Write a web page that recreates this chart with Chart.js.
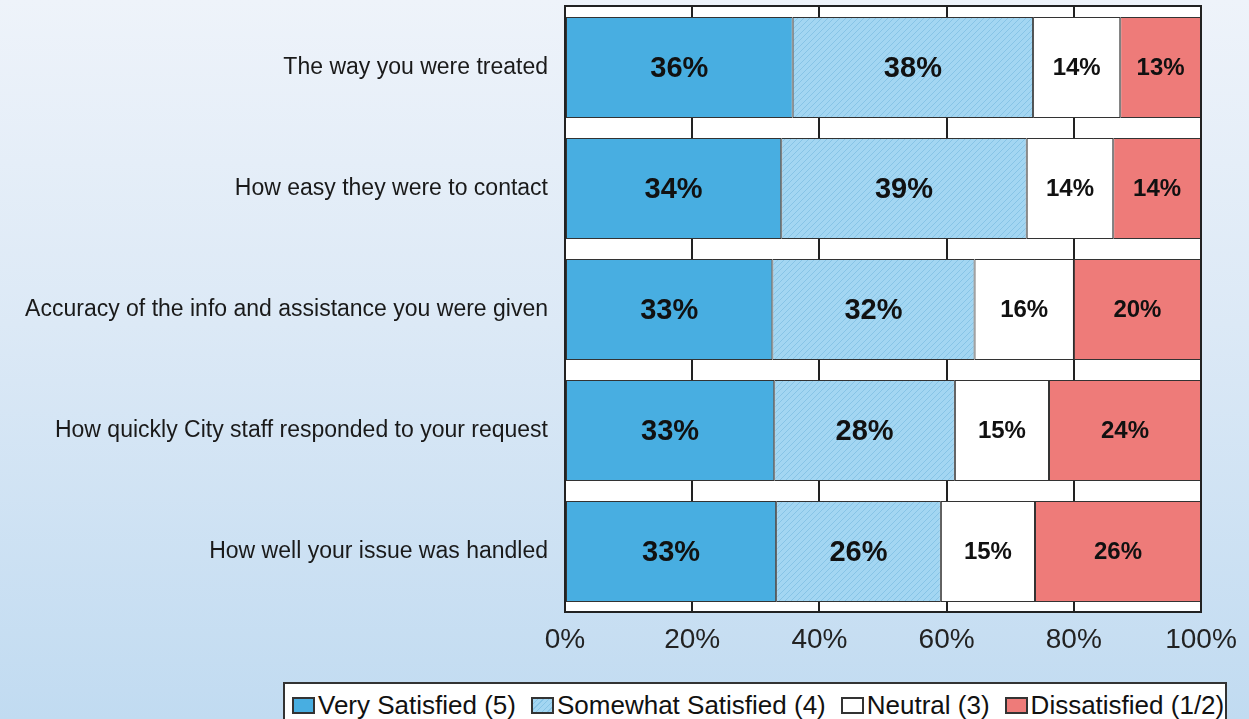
<!DOCTYPE html>
<html>
<head>
<meta charset="utf-8">
<script src="https://cdn.jsdelivr.net/npm/chart.js@4.4.0/dist/chart.umd.min.js"></script>
<style>
  html, body { margin: 0; padding: 0; }
  body {
    width: 1249px; height: 719px; overflow: hidden; position: relative;
    background: linear-gradient(to bottom, #eef3fa 0%, #dce9f6 45%, #c1dbf1 100%);
    font-family: 'Liberation Sans', Arial, sans-serif;
  }
  #chart { position: absolute; left: 0; top: 0; }
  #legend {
    position: absolute; left: 283px; top: 682px; width: 944px; height: 48px;
    box-sizing: border-box; background: #fff; border: 2px solid #333;
    display: flex; align-items: flex-start; padding: 8px 0 0 7px;
  }
  .item { display: flex; align-items: center; margin-right: 15px; font-size: 26px; line-height: 27px; color: #111; white-space: nowrap; }
  .swatch { width: 19px; height: 13px; border: 2px solid #333; margin-right: 3px; }
</style>
</head>
<body>
<canvas id="chart" width="1249" height="719"></canvas>
<div id="legend"></div>
<script>
// data
const categories = [
    'The way you were treated',
    'How easy they were to contact',
    'Accuracy of the info and assistance you were given',
    'How quickly City staff responded to your request',
    'How well your issue was handled'
];
const seriesNames = ['Very Satisfied (5)', 'Somewhat Satisfied (4)', 'Neutral (3)', 'Dissatisfied (1/2)'];
const verySatisfied     = [35.8, 34.0, 32.6, 32.9, 33.2];
const somewhatSatisfied = [37.8, 38.6, 31.8, 28.4, 25.9];
const neutral           = [13.7, 13.6, 15.6, 14.8, 14.8];
const dissatisfied      = [12.7, 13.8, 20.0, 23.9, 26.1];
const xTicks = [0, 20, 40, 60, 80, 100];

const FONT = "'Liberation Sans', Arial, sans-serif";

// hatched light blue fill
function hatch() {
    const c = document.createElement('canvas');
    c.width = 6; c.height = 6;
    const g = c.getContext('2d');
    g.fillStyle = '#a3d6f2';
    g.fillRect(0, 0, 6, 6);
    g.strokeStyle = '#87c4e6';
    g.lineWidth = 1;
    g.beginPath();
    g.moveTo(0, 6); g.lineTo(6, 0);
    g.moveTo(-3, 3); g.lineTo(3, -3);
    g.moveTo(3, 9); g.lineTo(9, 3);
    g.stroke();
    return g.createPattern(c, 'repeat');
}
const ctx = document.getElementById('chart').getContext('2d');
const colors = ['#48aee1', hatch(), '#ffffff', '#ee7b79'];
const swatchCss = ['#48aee1', 'repeating-linear-gradient(135deg, #a3d6f2 0 3px, #87c4e6 3px 4px)', '#ffffff', '#ee7b79'];
const labelSizes = [29, 29, 24, 24];

// plot background, frame and value labels
const plotFrame = {
    id: 'plotFrame',
    beforeDraw(chart) {
        const a = chart.chartArea, c = chart.ctx;
        c.save();
        c.fillStyle = '#fff';
        c.fillRect(a.left, a.top, a.right - a.left, a.bottom - a.top);
        c.restore();
    },
    afterDatasetsDraw(chart) {
        const a = chart.chartArea, c = chart.ctx;
        c.save();
        c.strokeStyle = '#222';
        c.lineWidth = 2;
        c.strokeRect(a.left, a.top - 1, a.right - a.left, a.bottom - a.top + 1);
        c.textAlign = 'center';
        c.textBaseline = 'middle';
        c.fillStyle = '#111';
        chart.data.datasets.forEach((ds, i) => {
            c.font = 'bold ' + labelSizes[i] + 'px ' + FONT;
            chart.getDatasetMeta(i).data.forEach((bar, j) => {
                c.fillText(Math.round(ds.data[j]) + '%', (bar.x + bar.base) / 2, bar.y + 1);
            });
        });
        c.restore();
    }
};

const series = [verySatisfied, somewhatSatisfied, neutral, dissatisfied];

const chart = new Chart(ctx, {
    type: 'bar',
    data: {
        labels: categories,
        datasets: series.map((d, i) => ({
            label: seriesNames[i],
            data: d,
            backgroundColor: colors[i],
            borderColor: '#333',
            borderWidth: 1,
            borderSkipped: false,
            categoryPercentage: 1,
            barPercentage: 0.835
        }))
    },
    options: {
        indexAxis: 'y',
        responsive: false,
        animation: false,
        layout: { padding: { top: 7, right: 48, left: 0, bottom: 0 } },
        plugins: { legend: { display: false }, tooltip: { enabled: false } },
        scales: {
            x: {
                stacked: true,
                min: 0, max: 100,
                afterBuildTicks: s => { s.ticks = xTicks.map(v => ({ value: v })); },
                afterFit: s => { s.height = 107; s.paddingLeft = 0; s.paddingRight = 0; },
                grid: { color: '#222', lineWidth: 2, drawTicks: false },
                border: { display: false },
                ticks: {
                    padding: 11,
                    color: '#222',
                    font: { family: FONT, size: 28 },
                    callback: v => v + '%'
                }
            },
            y: {
                stacked: true,
                afterFit: s => { s.width = 565; s.paddingTop = 0; s.paddingBottom = 0; },
                grid: { display: false },
                border: { display: false },
                ticks: {
                    padding: 9,
                    color: '#1a1a1a',
                    font: { family: FONT, size: 23 }
                }
            }
        }
    },
    plugins: [plotFrame]
});

// legend
const legend = document.getElementById('legend');
seriesNames.forEach((name, i) => {
    const item = document.createElement('div');
    item.className = 'item';
    const sw = document.createElement('span');
    sw.className = 'swatch';
    sw.style.background = swatchCss[i];
    item.appendChild(sw);
    item.appendChild(document.createTextNode(name));
    legend.appendChild(item);
});
</script>
</body>
</html>
